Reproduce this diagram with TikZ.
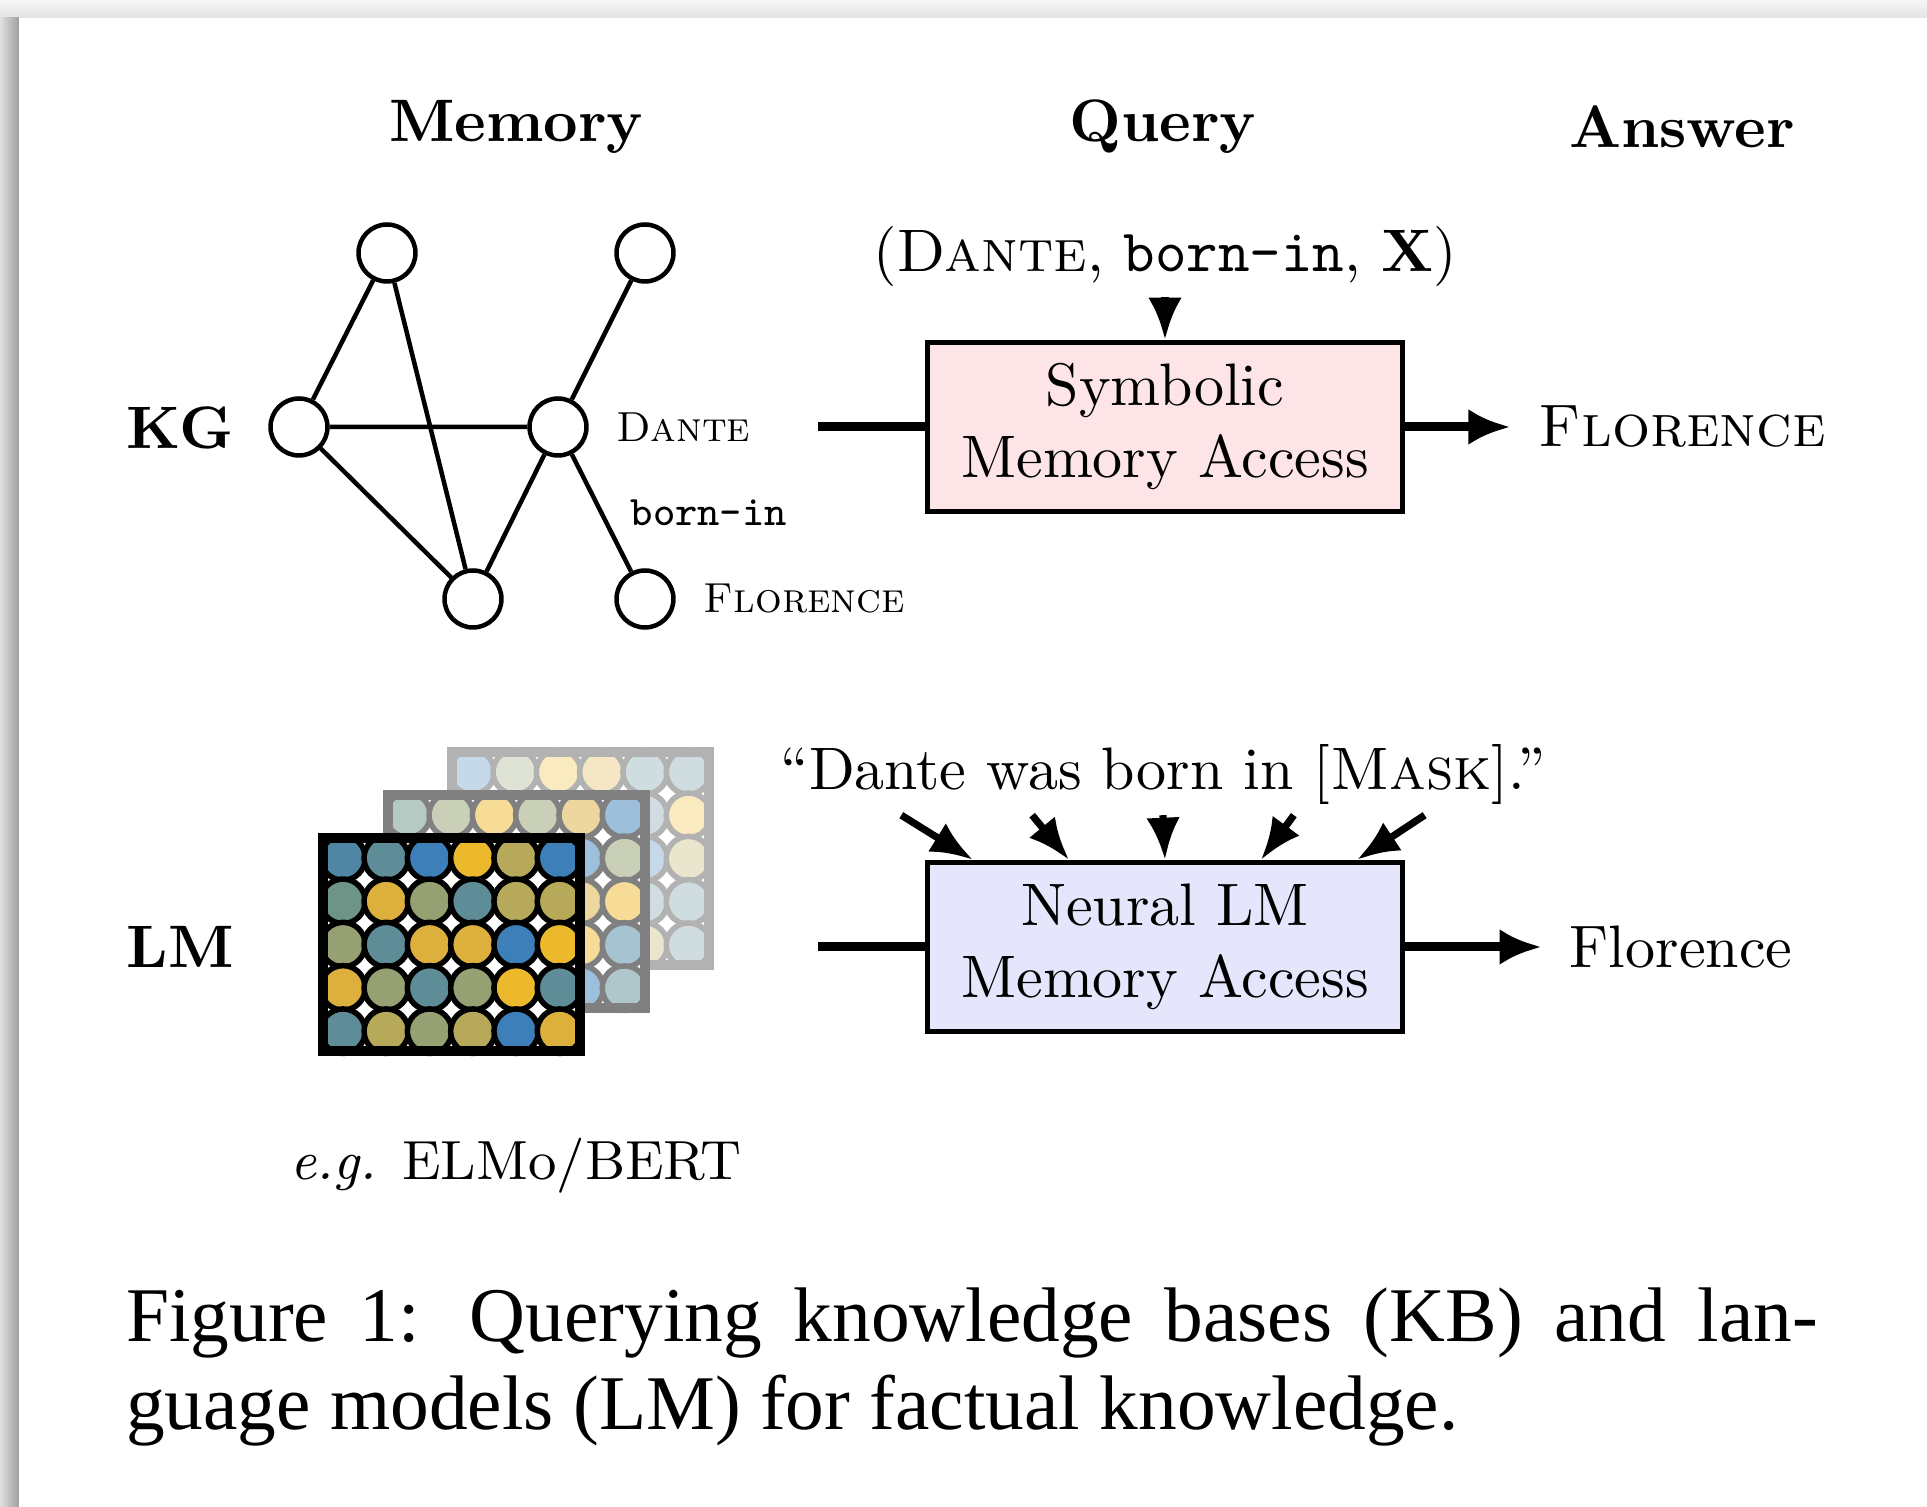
\documentclass[tikz,border=0pt]{standalone}
\usepackage{fontspec}
\newfontfamily\capfont{Liberation Serif}
\usetikzlibrary{arrows.meta,calc,positioning}
\definecolor{boxred}{HTML}{FDE5E7}
\definecolor{boxblue}{HTML}{E5E5FB}
% embedding colours
\definecolor{blu}{HTML}{3D7FB9}
\definecolor{stl}{HTML}{4E86A3}
\definecolor{tea}{HTML}{5F8D97}
\definecolor{grn}{HTML}{6E9488}
\definecolor{yel}{HTML}{EDB92C}
\definecolor{gld}{HTML}{DDB03E}
\definecolor{olv}{HTML}{B6AA5A}
\definecolor{sag}{HTML}{95A172}
\tikzset{ent/.style={circle,draw,line width=.75pt,minimum size=9.5pt,inner sep=0pt},
  tag/.style={font=\scriptsize,inner sep=0pt},
  head/.style={font=\bfseries},
  access/.style={draw,line width=.8pt,minimum width=79.3pt,minimum height=28.3pt,align=center},
  feed/.style={line width=1.5pt},
  arrow/.style={-{Latex[length=7pt,width=6pt]},line width=1.5pt},
  qarrow/.style={-{Latex[length=7pt,width=5.6pt]},line width=1.2pt},
  neuron/.style={line width=.92pt},
  capline/.style={anchor=base west,inner sep=0pt,font=\capfont\fontsize{12.9}{14.7}\selectfont}}

\begin{document}
\begin{tikzpicture}[x=0.1667pt,y=-0.1667pt]
  \path[use as bounding box] (0,0) rectangle (1927,1507);
  \fill[white] (0,0) rectangle (1927,1507);
  % page shadow
  \shade[top color=black!4,bottom color=black!11] (0,0) rectangle (1927,18);
  \shade[left color=black!12,right color=black!38] (0,18) rectangle (19,1507);

  % column and row heads
  \node[head] (hmem) at (516,127) {Memory};
  \node[head] (hqry) at (1163,127) {Query};
  \node[head] (hans) at (1682,127) {Answer};
  \node[head] (kg) at (180,428) {KG};
  \node[head] (lm) at (180,947) {LM};

  % knowledge graph
  \node[ent] (e1) at (387,253) {};
  \node[ent] (e2) at (645,253) {};
  \node[ent] (e3) at (299,427) {};
  \node[ent,label={[tag,label distance=4.5pt]right:\textsc{Dante}}] (dante) at (558,427) {};
  \node[ent] (e5) at (473,599) {};
  \node[ent,label={[tag,label distance=4.5pt]right:\textsc{Florence}}] (florence) at (645,599) {};
  \draw[line width=.75pt] (e1)--(e3) (e1)--(e5) (e2)--(dante) (e3)--(dante) (e3)--(e5) (dante)--(e5);
  \draw[line width=.75pt] (dante) -- node[tag,midway,right=4.5pt] {\texttt{born-in}} (florence);

  % symbolic access
  \coordinate (kgin) at (818,427);
  \node[access,fill=boxred] (kgbox) at (1165,427) {Symbolic\\Memory Access};
  \node[anchor=base,inner sep=1.5pt] (kgq) at (1165,272) {(\textsc{Dante}, \texttt{born-in}, \textbf{X})};
  \node[inner sep=4.5pt] (kgans) at (1682,427) {\textsc{Florence}};
  \draw[feed] (kgin) -- (kgbox);
  \draw[arrow] (kgbox) -- (kgans);
  \draw[qarrow] (kgq) -- (kgbox);

  % neural access
  \coordinate (lmin) at (818,947);
  \node[access,fill=boxblue] (lmbox) at (1165,947) {Neural LM\\Memory Access};
  \node[anchor=base,inner sep=1.5pt] (lmq) at (1163,790) {“Dante was born in [\textsc{Mask}].”};
  \node[inner sep=4.5pt] (lmans) at (1681,947) {Florence};
  \draw[feed] (lmin) -- (lmbox);
  \draw[arrow] (lmbox) -- (lmans);
  \foreach \i in {1,...,5}
    \draw[qarrow] ($(lmq.south west)!{\i/6}!(lmq.south east)$) -- ($(lmbox.north west)!{(2*\i-1)/10}!(lmbox.north east)$);

  % embedding layers, back to front
  \foreach \px/\py/\fade/\rows in {
      447/747/30/{0/{blu,sag,yel,gld,tea,tea},1/{tea,olv,blu,sag,tea,yel},2/{sag,gld,tea,olv,blu,olv},3/{yel,tea,sag,blu,tea,tea},4/{olv,blu,yel,tea,olv,tea}},
      383/790/50/{0/{grn,sag,yel,sag,gld,blu},1/{tea,olv,blu,yel,blu,sag},2/{olv,tea,sag,gld,gld,yel},3/{blu,yel,tea,sag,yel,stl},4/{sag,gld,olv,tea,blu,tea}},
      318/833/100/{0/{stl,tea,blu,yel,olv,blu},1/{grn,gld,sag,tea,olv,olv},2/{sag,tea,gld,gld,blu,yel},3/{gld,sag,tea,sag,yel,tea},4/{tea,olv,sag,olv,blu,gld}}}{
    \begin{scope}[shift={(\px,\py)}]
      \fill[white] (0,0) rectangle (267,223);
      \foreach \r/\row in \rows
        \foreach \c [count=\i from 0] in \row
          \draw[neuron,draw=black!\fade!white,fill=\c!\fade!white] (25+43.3*\i,25+43.3*\r) circle[radius=3.71pt];
      \draw[draw=black!\fade!white,line width=1.67pt] (5,5) rectangle (262,218);
    \end{scope}
  }
  \node[anchor=base,font=\fontsize{9.2}{11}\selectfont] (lmname) at (516,1180) {\textit{e.g.} ELMo/BERT};

  % caption
  \node[capline] (cap1) at (125,1342) {\hbox to 282pt{Figure 1: Querying knowledge bases (KB) and lan-}};
  \node[capline] (cap2) at (125,1430) {guage models (LM) for factual knowledge.};
\end{tikzpicture}
\end{document}
